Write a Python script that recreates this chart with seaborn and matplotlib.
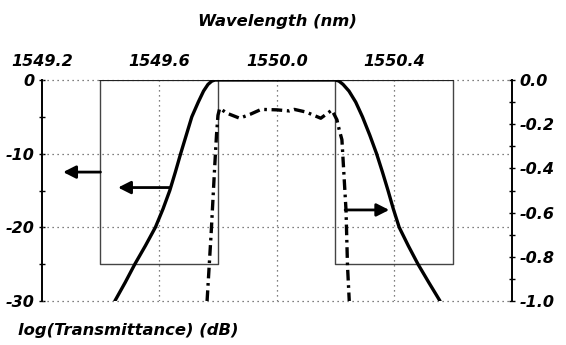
import matplotlib
matplotlib.use("Agg")
import matplotlib.pyplot as plt
import seaborn as sns
import pandas as pd

# ---- data ----
x_ticks = [1549.2, 1549.6, 1550.0, 1550.4]
x_tick_labels = ["1549.2", "1549.6", "1550.0", "1550.4"]
left_ticks = [0, -10, -20, -30]
left_tick_labels = ["0", "-10", "-20", "-30"]
right_ticks = [0.0, -0.2, -0.4, -0.6, -0.8, -1.0]
right_tick_labels = ["0.0", "-0.2", "-0.4", "-0.6", "-0.8", "-1.0"]

# solid curve: log transmittance (dB), left axis
wl_solid = [1549.449, 1549.484, 1549.517, 1549.553, 1549.587, 1549.613, 1549.636,
            1549.655, 1549.673, 1549.692, 1549.711, 1549.733, 1549.751, 1549.766,
            1549.779, 1549.79, 1550.0, 1550.2, 1550.212, 1550.226, 1550.246,
            1550.269, 1550.292, 1550.317, 1550.34, 1550.36, 1550.379, 1550.397,
            1550.417, 1550.448, 1550.481, 1550.518, 1550.556]
db_solid = [-30, -27.5, -25, -22.5, -20, -17.5, -15,
            -12.5, -10, -7.5, -5, -3, -1.5, -0.6,
            -0.15, 0, 0, 0, -0.15, -0.6, -1.5,
            -3, -5, -7.5, -10, -12.5, -15, -17.5,
            -20, -22.5, -25, -27.5, -30]

# dash-dot curve: right axis
wl_dd = [1549.763, 1549.777, 1549.789, 1549.795, 1549.800, 1549.806, 1549.83,
         1549.874, 1549.91, 1549.947, 1550.0, 1550.043, 1550.06, 1550.1,
         1550.15, 1550.188, 1550.205, 1550.213, 1550.222, 1550.236, 1550.241,
         1550.247]
t_dd = [-1.0, -0.69, -0.39, -0.25, -0.16, -0.128, -0.15,
        -0.173, -0.155, -0.133, -0.135, -0.14, -0.133, -0.145,
        -0.173, -0.136, -0.18, -0.226, -0.27, -0.59, -0.84,
        -1.0]

# spec mask boxes (wavelength range, depth in dB)
box_left = [1549.4, 1549.8]
box_right = [1550.2, 1550.6]
box_depth = -25

sns.set_style("white")
plt.rcParams["font.family"] = ["DejaVu Sans"]
plt.rcParams["text.color"] = "black"
plt.rcParams["xtick.color"] = "black"
plt.rcParams["ytick.color"] = "black"
plt.rcParams["xtick.labelcolor"] = "black"
plt.rcParams["ytick.labelcolor"] = "black"

fig = plt.figure(figsize=(5.66, 3.45), dpi=100)
ax = fig.add_axes([41.7 / 566, 1 - 301 / 345, (511.7 - 41.7) / 566, (301 - 80) / 345])
ax2 = ax.twinx()

tfont = dict(fontsize=11.5, fontweight="bold", fontstyle="italic", color="black")

# grid (dotted)
gkw = dict(color="#555555", lw=0.9, ls=(0, (1, 3)), zorder=1)
for gx in [1549.6, 1550.0, 1550.4]:
    ax.axvline(gx, **gkw)
for gy in [0, -10, -20, -30]:
    ax.axhline(gy, clip_on=False, **gkw)

# mask boxes
bkw = dict(color="#444444", lw=1.0, zorder=2)
for b in (box_left, box_right):
    ax.plot([b[0], b[0], b[1], b[1]], [0, box_depth, box_depth, 0], **bkw)
    ax.plot([b[0], b[1]], [0, 0], color="#222222", lw=1.6, zorder=2)

df_s = pd.DataFrame({"wl": wl_solid, "db": db_solid})
sns.lineplot(data=df_s, x="wl", y="db", ax=ax, color="black", lw=2.4,
             sort=False, estimator=None, zorder=5)
ax.lines[-1].set_solid_joinstyle("round")

df_d = pd.DataFrame({"wl": wl_dd, "t": t_dd})
sns.lineplot(data=df_d, x="wl", y="t", ax=ax2, color="black", lw=2.4,
             sort=False, estimator=None, zorder=5)
ax2.lines[-1].set_linestyle((0, (3.2, 1.4, 0.8, 1.4)))

# arrows
akw = dict(arrowstyle="-|>,head_length=0.75,head_width=0.38", color="black", lw=2.0,
           shrinkA=0, shrinkB=0)
ax.annotate("", xy=(1549.273, -12.5), xytext=(1549.40, -12.5), arrowprops=akw, zorder=6)
ax.annotate("", xy=(1549.46, -14.6), xytext=(1549.636, -14.6), arrowprops=akw, zorder=6)
ax2.annotate("", xy=(1550.383, -0.588), xytext=(1550.233, -0.588), arrowprops=akw, zorder=6)

ax.set_xlim(1549.2, 1550.8)
ax.set_ylim(-30, 0)
ax2.set_ylim(-1.0, 0.0)

ax.xaxis.tick_top()
ax.set_xticks(x_ticks)
ax.set_xticklabels(x_tick_labels, **tfont)
ax.tick_params(axis="x", length=0, pad=8)

ax.set_yticks(left_ticks)
ax.set_yticklabels(left_tick_labels, **tfont)
ax.set_yticks([-5, -15, -25], minor=True)
ax.tick_params(axis="y", which="both", direction="inout", length=5, width=1.0, pad=3,
               left=True, color="black")

ax2.set_yticks(right_ticks)
ax2.set_yticklabels(right_tick_labels, **tfont)
ax2.set_yticks([-0.1, -0.3, -0.5, -0.7, -0.9], minor=True)
ax2.tick_params(axis="y", which="both", direction="inout", length=5, width=1.0, pad=3,
                right=True, color="black")

for a in (ax, ax2):
    a.set_xlabel("")
    a.set_ylabel("")
    a.spines["top"].set_visible(False)
    a.spines["bottom"].set_visible(False)
    a.spines["left"].set_color("black")
    a.spines["right"].set_color("black")
    a.spines["left"].set_linewidth(1.4)
    a.spines["right"].set_linewidth(1.4)
    a.patch.set_alpha(0)
ax2.spines["left"].set_visible(False)
ax.spines["right"].set_visible(False)

fig.text(277.5 / 566, 1 - 21.7 / 345, "Wavelength (nm)", ha="center", va="center",
         fontsize=11.8, fontweight="bold", fontstyle="italic", color="black")
fig.text(18 / 566, 1 - 330 / 345, "log(Transmittance) (dB)", ha="left", va="center",
         fontsize=11.8, fontweight="bold", fontstyle="italic", color="black")

fig.savefig("out.png", dpi=100)
